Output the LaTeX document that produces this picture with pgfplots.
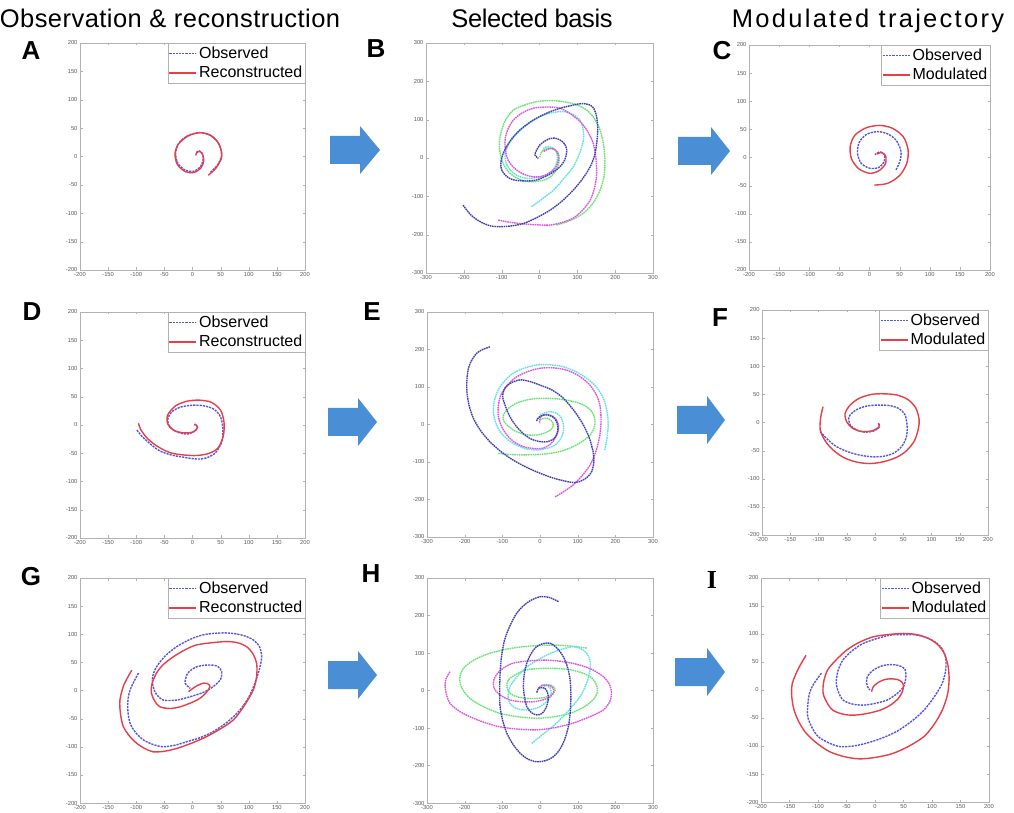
\documentclass[border=0pt]{standalone}
\usepackage{fontspec}
\setmainfont{Liberation Sans}
\newfontfamily\serifI{Liberation Serif}
\usepackage{pgfplots}
\pgfplotsset{compat=1.18}
\definecolor{obsblue}{RGB}{84,84,222}
\definecolor{recred}{RGB}{232,62,72}
\definecolor{bblue}{RGB}{62,62,180}
\definecolor{bgreen}{RGB}{104,226,112}
\definecolor{bmag}{RGB}{222,84,222}
\definecolor{bcyan}{RGB}{96,226,226}
\definecolor{arrowblue}{RGB}{74,142,214}
\pgfplotsset{
  panel/.style={scale only axis, axis line style={gray!60}, tick align=inside,
    major tick length=2.5pt, tick style={gray!60},
    /pgf/number format/assume math mode=true,
    ticklabel style={font=\fontsize{5.8}{6}\selectfont, text=black!65},
    xticklabel style={yshift=1pt}, yticklabel style={xshift=1pt},
    legend style={at={(1,1)}, anchor=north east, draw=gray!60, font=\fontsize{16}{17}\selectfont,
      inner xsep=0.5pt, inner ysep=1.5pt, row sep=2.5pt, cells={anchor=west}},
    legend image code/.code={\draw[##1] (0pt,0pt) -- (27pt,0pt);}},
  small/.style={panel, xmin=-200, xmax=200, ymin=-200, ymax=200,
    xtick={-200,-150,...,200}, ytick={-200,-150,...,200}},
  big/.style={panel, xmin=-300, xmax=300, ymin=-300, ymax=300,
    xtick={-300,-200,...,300}, ytick={-300,-200,...,300}},
  obsline/.style={draw=obsblue, line width=1.4pt, dash pattern=on 2.2pt off 1pt},
  recline/.style={draw=recred, line width=1.4pt, solid},
  obs/.style={obsline, smooth, forget plot},
  rec/.style={recline, smooth, forget plot},
  bas/.style={line width=1.4pt, dash pattern=on 1.6pt off 0.7pt, smooth},
}
\newcommand\obsrec[1]{\addlegendimage{obsline}\addlegendimage{recline}\legend{Observed,#1}}
\begin{document}
\begin{tikzpicture}
\useasboundingbox (0pt,0pt) rectangle (1014pt,812pt);
% titles
\node[anchor=base, font=\fontsize{25.5}{30}\selectfont\addfontfeature{LetterSpace=1.8}] at (170pt,784pt) {Observation \& reconstruction};
\node[anchor=base, font=\fontsize{25.5}{30}\selectfont\addfontfeature{LetterSpace=-1.5}] at (532pt,784pt) {Selected basis};
\node[anchor=base, font=\fontsize{25.5}{30}\selectfont\addfontfeature{LetterSpace=9}] at (868pt,784pt) {Modulated trajectory};
% panel letters
\node[font=\fontsize{26}{28}\selectfont\bfseries] at (31pt,761pt) {A};
\node[font=\fontsize{26}{28}\selectfont\bfseries] at (376pt,763pt) {B};
\node[font=\fontsize{26}{28}\selectfont\bfseries] at (722pt,761pt) {C};
\node[font=\fontsize{26}{28}\selectfont\bfseries] at (32pt,500pt) {D};
\node[font=\fontsize{26}{28}\selectfont\bfseries] at (372pt,500pt) {E};
\node[font=\fontsize{26}{28}\selectfont\bfseries] at (720pt,494pt) {F};
\node[font=\fontsize{26}{28}\selectfont\bfseries] at (31pt,235pt) {G};
\node[font=\fontsize{26}{28}\selectfont\bfseries] at (371pt,238pt) {H};
\node[font=\fontsize{26}{28}\selectfont\bfseries\serifI] at (712pt,232pt) {I};
% arrows
\fill[arrowblue] (330pt,648pt) -- (360pt,648pt) -- (360pt,638pt) -- (380pt,662pt) -- (360pt,686pt) -- (360pt,676pt) -- (330pt,676pt) -- cycle;
\fill[arrowblue] (678pt,647pt) -- (711pt,647pt) -- (711pt,637pt) -- (730pt,661pt) -- (711pt,685pt) -- (711pt,675pt) -- (678pt,675pt) -- cycle;
\fill[arrowblue] (328pt,376pt) -- (358pt,376pt) -- (358pt,366pt) -- (377pt,390pt) -- (358pt,414pt) -- (358pt,404pt) -- (328pt,404pt) -- cycle;
\fill[arrowblue] (677pt,378pt) -- (707pt,378pt) -- (707pt,368pt) -- (725pt,392pt) -- (707pt,416pt) -- (707pt,406pt) -- (677pt,406pt) -- cycle;
\fill[arrowblue] (328pt,123pt) -- (358pt,123pt) -- (358pt,113pt) -- (377pt,137pt) -- (358pt,161pt) -- (358pt,151pt) -- (328pt,151pt) -- cycle;
\fill[arrowblue] (675pt,126pt) -- (707pt,126pt) -- (707pt,116pt) -- (725pt,140pt) -- (707pt,164pt) -- (707pt,154pt) -- (675pt,154pt) -- cycle;

% ---------------- A
\begin{axis}[small, at={(80pt,769pt)}, anchor=north west, width=225pt, height=227pt]
\addplot[obs] coordinates {(32,-28)(45,-14)(52,4)(45,25)(30,38)(12,42)(-8,37)(-24,24)(-30,6)(-26,-12)(-13,-24)(2,-26)(14,-18)(19,-5)(17,6)(11,10)(6,6)};
\addplot[rec] coordinates {(28,-33)(42,-20)(52,0)(47,22)(33,37)(13,42)(-8,36)(-25,22)(-31,5)(-27,-14)(-12,-27)(3,-28)(15,-20)(20,-8)(18,4)(12,9)(7,6)(6,2)};
\obsrec{Reconstructed}
\end{axis}
% ---------------- B
\begin{axis}[big, at={(426pt,769pt)}, anchor=north west, width=227pt, height=230pt]
\addplot[bas,color=bgreen] coordinates {(45,-175)(82,-163)(116,-144)(142,-117)(160,-84)(170,-50)(173,-14)(170,30)(160,73)(145,103)(125,125)(95,140)(63,147)(28,150)(-7,147)(-40,138)(-69,125)(-88,102)(-100,73)(-106,42)(-104,12)(-95,-17)(-78,-40)(-52,-56)(-25,-62)(0,-60)(23,-53)(40,-38)(50,-18)(52,-2)(50,12)(42,21)(32,25)(20,25)(10,21)(3,12)(1,3)};
\addplot[bas,color=bcyan] coordinates {(-21,-127)(8,-106)(37,-84)(64,-54)(89,-23)(106,12)(116,47)(115,77)(107,99)(88,114)(63,121)(32,118)(1,108)(-30,89)(-60,64)(-80,38)(-91,12)(-89,-10)(-78,-31)(-58,-46)(-34,-53)(-8,-51)(19,-44)(36,-30)(45,-14)(47,2)(45,16)(38,25)(28,29)(18,29)(10,25)};
\addplot[bas,color=bmag] coordinates {(-109,-162)(-82,-167)(-52,-171)(-12,-174)(28,-175)(60,-168)(89,-157)(114,-136)(134,-110)(146,-76)(151,-40)(149,0)(142,38)(127,70)(107,95)(82,115)(54,130)(20,133)(-16,130)(-45,118)(-69,99)(-84,74)(-91,47)(-90,19)(-83,-5)(-68,-25)(-47,-40)(-23,-48)(1,-49)(23,-41)(41,-27)(49,-10)(50,8)(44,19)(32,25)(20,22)(10,16)};
\addplot[bas,color=bblue] coordinates {(-202,-123)(-182,-148)(-157,-166)(-130,-177)(-104,-179)(-73,-177)(-43,-171)(-8,-156)(28,-136)(60,-112)(89,-84)(114,-54)(134,-23)(146,8)(151,38)(154,75)(151,108)(144,128)(134,138)(112,142)(89,138)(55,130)(19,117)(-18,98)(-52,73)(-78,44)(-96,12)(-102,-12)(-100,-31)(-87,-48)(-69,-57)(-38,-60)(-7,-57)(26,-43)(54,-23)(68,-2)(72,21)(66,37)(54,47)(40,52)(28,51)(14,44)(1,34)(-8,20)(-12,8)(-3,-1)};
\end{axis}
% ---------------- C
\begin{axis}[small, at={(749pt,767pt)}, anchor=north west, width=241pt, height=225pt]
\addplot[obs] coordinates {(44,-22)(51,-5)(52,12)(44,31)(30,42)(13,46)(-5,41)(-17,27)(-20,8)(-14,-10)(0,-19)(15,-18)(24,-8)(25,5)(17,10)(9,5)};
\addplot[rec] coordinates {(8,-49)(30,-46)(50,-32)(62,-10)(64,14)(56,37)(38,52)(17,57)(-5,53)(-24,40)(-32,20)(-30,-2)(-18,-20)(0,-28)(15,-24)(26,-12)(27,2)(20,9)(12,6)};
\obsrec{Modulated}
\end{axis}
% ---------------- D
\begin{axis}[small, at={(80pt,500pt)}, anchor=north west, width=225pt, height=226pt]
\addplot[obs] coordinates {(-99,-9)(-88,-22)(-72,-36)(-58,-46)(-38,-53)(-16,-57)(4,-60)(22,-59)(40,-50)(52,-30)(54,-8)(50,14)(38,28)(20,34)(0,35)(-20,32)(-36,24)(-44,10)(-40,-4)(-26,-13)(-8,-16)(6,-9)(8,-2)(3,1)};
\addplot[rec] coordinates {(-96,3)(-92,-8)(-80,-24)(-62,-38)(-40,-49)(-16,-53)(8,-54)(30,-50)(46,-40)(55,-18)(56,5)(50,26)(34,40)(12,44)(-10,42)(-30,34)(-44,18)(-44,2)(-32,-10)(-14,-14)(2,-12)(9,-4)(4,2)};
\obsrec{Reconstructed}
\end{axis}
% ---------------- E
\begin{axis}[big, at={(427pt,500pt)}, anchor=north west, width=226pt, height=225pt]
\addplot[bas,color=bgreen] coordinates {(-111,-77)(-78,-80)(-44,-81)(-8,-80)(27,-77)(60,-70)(88,-59)(114,-44)(133,-28)(144,-8)(146,12)(139,32)(124,47)(100,58)(71,65)(36,69)(0,70)(-33,66)(-62,57)(-84,43)(-97,25)(-97,10)(-88,-1)(-72,-14)(-53,-23)(-31,-28)(-9,-28)(12,-23)(27,-15)(35,-5)(35,3)(28,12)(18,17)(8,16)(0,12)};
\addplot[bas,color=bcyan] coordinates {(172,-68)(178,-35)(181,-1)(178,36)(168,70)(150,100)(124,123)(95,141)(62,154)(27,159)(-9,159)(-42,150)(-71,137)(-94,116)(-111,92)(-121,63)(-124,34)(-118,6)(-106,-19)(-86,-40)(-62,-55)(-36,-65)(-9,-68)(17,-64)(40,-55)(55,-38)(62,-19)(62,0)(57,17)(47,28)(35,33)(22,34)(9,30)(0,24)(-4,17)};
\addplot[bas,color=bmag] coordinates {(40,-193)(65,-178)(88,-161)(112,-136)(133,-108)(149,-70)(159,-28)(162,12)(159,52)(147,84)(128,110)(101,131)(71,145)(36,151)(0,150)(-33,141)(-62,127)(-85,107)(-102,83)(-110,55)(-111,25)(-103,-3)(-88,-28)(-68,-47)(-44,-59)(-18,-64)(9,-63)(28,-52)(40,-37)(48,-18)(49,-1)(44,12)(35,21)(24,26)(13,27)(4,23)(0,17)(-1,10)(0,3)};
\addplot[bas,color=bblue] coordinates {(-133,207)(-152,200)(-168,190)(-182,170)(-190,150)(-194,120)(-194,87)(-188,50)(-177,17)(-158,-16)(-133,-46)(-104,-72)(-71,-95)(-36,-114)(0,-130)(36,-143)(71,-152)(92,-155)(106,-152)(124,-142)(137,-126)(143,-100)(141,-73)(131,-36)(115,-1)(91,36)(62,70)(32,92)(0,105)(-28,115)(-53,119)(-75,112)(-93,97)(-99,75)(-93,52)(-82,25)(-66,-1)(-47,-22)(-27,-37)(-4,-45)(18,-46)(34,-40)(44,-28)(48,-10)(44,8)(34,20)(22,25)(10,25)(0,21)(-7,15)(-9,8)};
\end{axis}
% ---------------- F
\begin{axis}[small, at={(762pt,502pt)}, anchor=north west, width=226pt, height=225pt]
\addplot[obs] coordinates {(-97,-16)(-84,-30)(-68,-43)(-48,-52)(-27,-58)(-5,-61)(15,-60)(32,-55)(46,-44)(55,-28)(57,-8)(53,14)(42,25)(26,30)(6,31)(-16,29)(-34,22)(-46,10)(-44,-4)(-33,-13)(-18,-17)(-2,-15)(8,-8)(6,-1)};
\addplot[rec] coordinates {(-92,28)(-96,10)(-97,-13)(-88,-33)(-74,-49)(-56,-62)(-34,-70)(-10,-73)(14,-70)(38,-62)(56,-50)(70,-32)(77,-10)(78,6)(72,26)(58,41)(38,49)(16,51)(-6,50)(-28,43)(-44,31)(-53,16)(-50,1)(-40,-10)(-24,-16)(-6,-15)(7,-8)(6,-1)};
\obsrec{Modulated}
\end{axis}
% ---------------- G
\begin{axis}[small, at={(80pt,234pt)}, anchor=north west, width=225pt, height=225pt]
\addplot[obs] coordinates {(-96,31)(-108,8)(-114,-11)(-115,-35)(-111,-58)(-101,-75)(-87,-88)(-70,-96)(-52,-100)(-30,-97)(-10,-91)(13,-84)(37,-73)(62,-56)(84,-35)(100,-12)(111,13)(119,38)(123,60)(119,78)(108,90)(90,98)(67,102)(44,102)(19,99)(-4,91)(-28,78)(-48,62)(-64,42)(-71,24)(-70,7)(-64,-7)(-52,-17)(-28,-17)(-4,-11)(20,-3)(37,7)(50,20)(52,33)(46,42)(37,45)(22,45)(7,42)(-3,36)(-10,28)(-13,13)(-4,4)};
\addplot[rec] coordinates {(-108,36)(-122,10)(-129,-17)(-128,-42)(-123,-64)(-112,-81)(-99,-94)(-85,-103)(-70,-109)(-50,-108)(-28,-103)(0,-93)(25,-82)(50,-68)(73,-52)(92,-27)(108,1)(114,25)(114,48)(107,66)(96,78)(80,85)(61,87)(35,85)(7,81)(-14,72)(-34,60)(-52,46)(-64,31)(-72,12)(-73,-5)(-67,-19)(-58,-29)(-40,-32)(-22,-29)(-3,-22)(13,-14)(25,-3)(31,7)(27,12)(19,13)(9,9)(1,4)(-7,-2)};
\obsrec{Reconstructed}
\end{axis}
% ---------------- H
\begin{axis}[big, at={(427pt,234pt)}, anchor=north west, width=226pt, height=225pt]
\addplot[bas,color=bgreen] coordinates {(124,113)(86,118)(44,121)(0,120)(-44,117)(-90,110)(-134,99)(-172,83)(-200,63)(-212,40)(-212,19)(-201,-4)(-181,-25)(-146,-45)(-106,-61)(-58,-70)(-9,-74)(38,-70)(80,-61)(115,-45)(141,-25)(152,-5)(150,15)(138,33)(115,46)(82,55)(44,59)(4,59)(-35,55)(-64,43)(-84,28)(-88,10)(-80,-7)(-60,-17)(-35,-21)(-8,-21)(18,-17)(34,-9)(40,1)(36,10)(27,15)(18,15)(9,10)};
\addplot[bas,color=bcyan] coordinates {(-22,-141)(10,-115)(44,-87)(77,-52)(106,-17)(124,20)(133,55)(133,80)(124,99)(108,112)(88,117)(58,110)(27,99)(-5,82)(-35,63)(-60,38)(-80,10)(-85,-14)(-80,-34)(-65,-47)(-44,-52)(-20,-50)(0,-43)(16,-31)(27,-17)(30,-4)(27,6)(17,13)(4,15)};
\addplot[bas,color=bmag] coordinates {(-239,50)(-250,30)(-252,10)(-248,-12)(-239,-34)(-216,-54)(-186,-70)(-148,-85)(-106,-97)(-58,-103)(-9,-105)(40,-99)(88,-87)(132,-70)(168,-52)(185,-30)(190,-7)(184,17)(168,37)(140,55)(105,68)(62,77)(18,81)(-28,79)(-71,73)(-100,58)(-119,37)(-124,18)(-119,1)(-103,-14)(-80,-25)(-50,-30)(-18,-30)(8,-25)(27,-17)(36,-5)(35,6)(25,13)(13,15)(3,12)(-4,6)};
\addplot[bas,color=bblue] coordinates {(49,237)(25,248)(0,250)(-25,240)(-45,225)(-62,206)(-80,172)(-94,135)(-102,92)(-106,46)(-107,0)(-106,-43)(-99,-80)(-88,-114)(-72,-143)(-53,-167)(-32,-183)(-9,-190)(15,-187)(35,-177)(52,-158)(65,-132)(75,-98)(80,-61)(82,-16)(80,28)(73,62)(62,90)(46,112)(27,126)(8,125)(-9,117)(-24,98)(-35,73)(-42,42)(-44,10)(-41,-18)(-35,-43)(-23,-59)(-9,-65)(4,-62)(13,-52)(20,-35)(22,-17)(19,-3)(13,6)(4,8)(-4,6)(-9,-7)};
\end{axis}
% ---------------- I
\begin{axis}[small, at={(761pt,234pt)}, anchor=north west, width=228pt, height=224pt]
\addplot[obs] coordinates {(-94,30)(-108,10)(-115,-6)(-118,-28)(-118,-48)(-110,-68)(-100,-83)(-82,-94)(-62,-101)(-38,-100)(-15,-95)(12,-86)(38,-74)(64,-56)(86,-36)(104,-12)(118,12)(124,36)(124,59)(118,73)(109,83)(94,92)(74,98)(50,99)(27,98)(4,92)(-21,83)(-40,70)(-56,54)(-65,34)(-68,12)(-64,-4)(-56,-18)(-40,-25)(-21,-27)(0,-24)(21,-18)(38,-7)(50,6)(54,22)(53,36)(46,42)(35,45)(21,45)(9,42)(-1,37)(-9,30)(-14,22)(-15,15)(-13,6)(-9,0)};
\addplot[rec] coordinates {(-121,62)(-134,39)(-145,12)(-146,-12)(-142,-36)(-133,-58)(-121,-77)(-102,-95)(-80,-110)(-54,-119)(-27,-123)(3,-120)(32,-113)(60,-100)(86,-83)(104,-61)(118,-36)(127,-9)(130,18)(128,44)(121,66)(110,81)(94,92)(73,99)(50,101)(23,99)(-3,95)(-28,85)(-50,71)(-68,54)(-83,36)(-90,15)(-91,-6)(-84,-23)(-74,-36)(-57,-43)(-38,-45)(-14,-42)(9,-36)(27,-27)(41,-15)(48,-3)(50,9)(45,16)(38,19)(26,20)(15,18)(5,13)(-3,6)(-6,-3)};
\obsrec{Modulated}
\end{axis}
\end{tikzpicture}
\end{document}
